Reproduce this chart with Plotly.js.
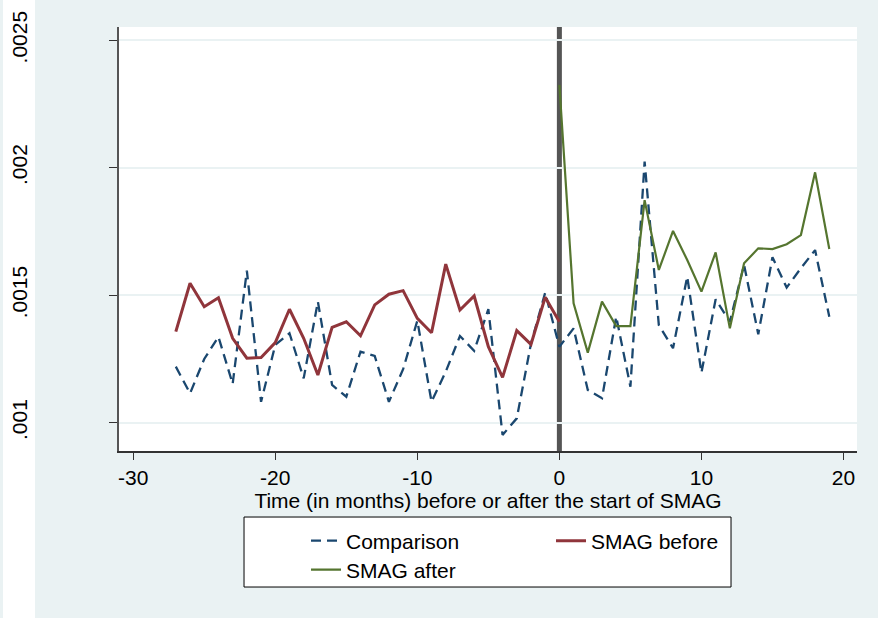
<!DOCTYPE html>
<html>
<head>
<meta charset="utf-8">
<script src="https://cdn.plot.ly/plotly-3.0.1.min.js"></script>
<style>html,body{margin:0;padding:0;background:#fff;}#chart{width:878px;height:618px;}</style>
</head>
<body>
<div id="chart"></div>
<script>
// Months relative to SMAG start
const monthsComparison = [-27,-26,-25,-24,-23,-22,-21,-20,-19,-18,-17,-16,-15,-14,-13,-12,-11,-10,-9,-8,-7,-6,-5,-4,-3,-2,-1,0,1,2,3,4,5,6,7,8,9,10,11,12,13,14,15,16,17,18,19];
const comparison = [0.00122,0.001115,0.00125,0.001337,0.001152,0.001596,0.001082,0.001305,0.001351,0.001174,0.001475,0.001148,0.001102,0.001279,0.001262,0.001082,0.00121,0.0014,0.001082,0.0012,0.00134,0.001282,0.001445,0.000952,0.001017,0.00131,0.00151,0.001298,0.00137,0.001128,0.001096,0.001416,0.001141,0.002024,0.001383,0.001292,0.001573,0.001196,0.001484,0.001396,0.001619,0.001347,0.001649,0.00153,0.001606,0.001677,0.001416];
const monthsBefore = [-27,-26,-25,-24,-23,-22,-21,-20,-19,-18,-17,-16,-15,-14,-13,-12,-11,-10,-9,-8,-7,-6,-5,-4,-3,-2,-1,0];
const smagBefore = [0.001357,0.001547,0.001455,0.00149,0.001331,0.001253,0.001256,0.001314,0.001445,0.001331,0.001187,0.001374,0.001396,0.001341,0.001462,0.001504,0.001518,0.001409,0.001353,0.001622,0.001442,0.001497,0.001298,0.001178,0.001361,0.001307,0.001492,0.001396];
const monthsAfter = [0,1,2,3,4,5,6,7,8,9,10,11,12,13,14,15,16,17,18,19];
const smagAfter = [0.002325,0.001468,0.001275,0.001475,0.001379,0.001379,0.001873,0.001599,0.001752,0.001638,0.001514,0.001668,0.00137,0.001625,0.001684,0.001681,0.0017,0.001736,0.001982,0.001681];
const xTickVals = [-30,-20,-10,0,10,20];
const xTickText = ['-30','-20','-10','0','10','20'];
const yTickVals = [0.001,0.0015,0.002,0.0025];
const yTickText = ['.001','.0015','.002','.0025'];
const seriesNames = ['Comparison','SMAG before','SMAG after'];
const xTitle = 'Time (in months) before or after the start of SMAG';

const FONT = '"Liberation Sans", Arial, sans-serif';

const traces = [
  {x: monthsComparison, y: comparison, name: seriesNames[0], type: 'scatter', mode: 'lines',
   line: {color: '#1a476f', width: 2.3, dash: '10px,6px'}, legend: 'legend'},
  {x: monthsBefore, y: smagBefore, name: seriesNames[1], type: 'scatter', mode: 'lines',
   line: {color: '#90353b', width: 3}, legend: 'legend'},
  {x: monthsAfter, y: smagAfter, name: seriesNames[2], type: 'scatter', mode: 'lines',
   line: {color: '#55752f', width: 2.2}, legend: 'legend2'}
];

const layout = {
  width: 878, height: 618,
  margin: {l: 119, r: 21, t: 27, b: 167},
  paper_bgcolor: '#eaf2f3',
  plot_bgcolor: '#ffffff',
  font: {family: FONT, size: 21, color: '#000'},
  showlegend: true,
  xaxis: {
    range: [-31.0, 20.95], tickvals: xTickVals, ticktext: xTickText,
    showgrid: false, zeroline: false, showline: true, linecolor: '#333', linewidth: 1.5,
    ticks: 'outside', ticklen: 7, tickwidth: 1.2, tickcolor: '#333',
    tickfont: {size: 21, family: FONT, color: '#000'},
    title: {text: xTitle, font: {size: 21, family: FONT, color: '#000'}, standoff: 1}
  },
  yaxis: {
    range: [0.000889, 0.002552], tickvals: yTickVals, ticktext: yTickText,
    showgrid: true, gridcolor: '#eaf2f3', gridwidth: 2, zeroline: false,
    showline: true, linecolor: '#555', linewidth: 2,
    ticks: 'outside', ticklen: 8, tickwidth: 1.2, tickcolor: '#333',
    tickangle: -90, ticklabelstandoff: 74,
    tickfont: {size: 21, family: FONT, color: '#000'}
  },
  shapes: [
    {type: 'rect', xref: 'paper', yref: 'paper', x0: -0.1572, x1: -0.1138, y0: -0.5, y1: 1.1,
     fillcolor: '#ffffff', line: {width: 0}, layer: 'below'},
    {type: 'line', xref: 'x', yref: 'paper', x0: 0, x1: 0, y0: 0, y1: 1,
     line: {color: '#555555', width: 5}, layer: 'below'},
    {type: 'rect', xref: 'paper', yref: 'paper', x0: 0.1694, x1: 0.8293, y0: -0.1557, y1: -0.3208,
     fillcolor: '#ffffff', line: {color: '#000', width: 1}, layer: 'above'}
  ],
  legend: {orientation: 'h', x: 0.2534, xanchor: 'left', y: -0.2123, yanchor: 'middle',
    bgcolor: 'rgba(0,0,0,0)', borderwidth: 0, entrywidth: 200, entrywidthmode: 'pixels',
    itemwidth: 30, font: {size: 21, family: FONT, color: '#000'}},
  legend2: {orientation: 'h', x: 0.2534, xanchor: 'left', y: -0.2807, yanchor: 'middle',
    bgcolor: 'rgba(0,0,0,0)', borderwidth: 0,
    itemwidth: 30, font: {size: 21, family: FONT, color: '#000'}}
};

Plotly.newPlot('chart', traces, layout, {displayModeBar: false, staticPlot: true});
</script>
</body>
</html>
